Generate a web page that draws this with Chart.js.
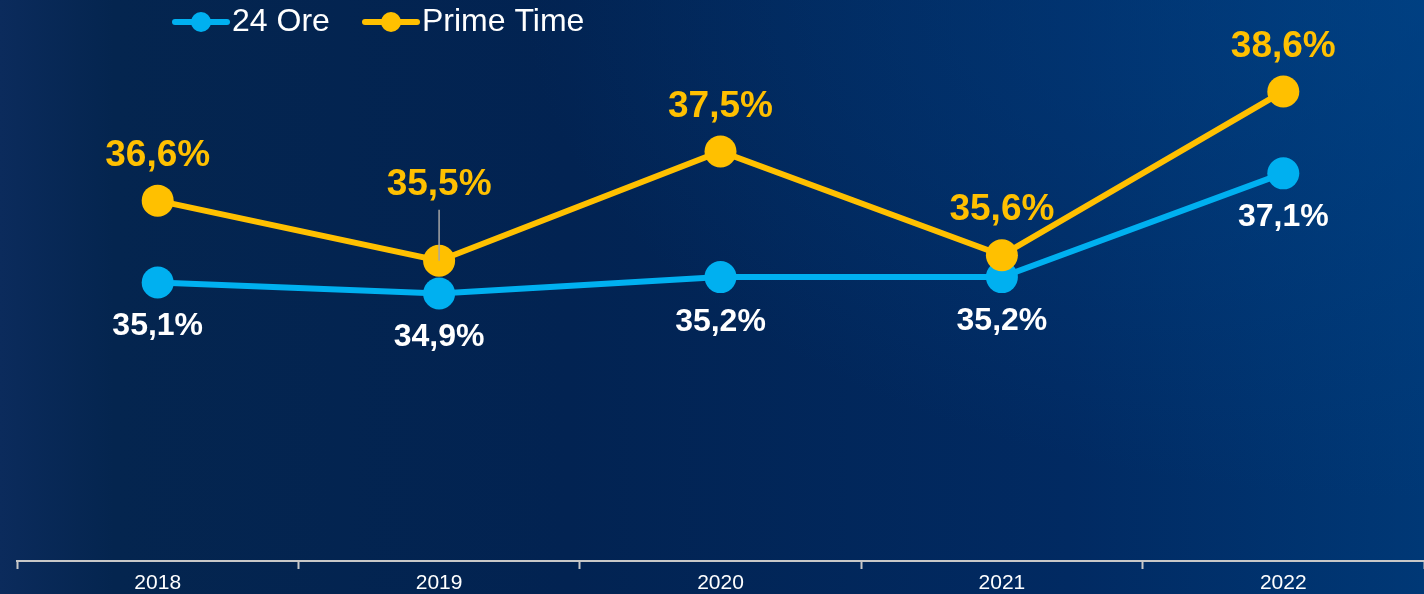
<!DOCTYPE html>
<html>
<head>
<meta charset="utf-8">
<title>24 Ore vs Prime Time</title>
<script src="https://cdn.jsdelivr.net/npm/chart.js@4"></script>
<style>
    html, body {
        margin: 0;
        padding: 0;
        width: 1424px;
        height: 594px;
        overflow: hidden;
    }
    body {
        background:
            radial-gradient(ellipse 900px 500px at 100% 0%, rgba(0, 70, 140, 0.55), rgba(0, 70, 140, 0) 100%),
            linear-gradient(90deg, #0b2b5c 0%, #04254f 8%, #022352 40%, #012a62 75%, #003876 100%);
    }
    .chart-wrap {
        position: relative;
        width: 1424px;
        height: 594px;
    }
</style>
</head>
<body>
<div class="chart-wrap">
    <canvas id="shareChart" width="1424" height="594"></canvas>
</div>

<script>
// Data
const years = ['2018', '2019', '2020', '2021', '2022'];
const ore24 = [35.1, 34.9, 35.2, 35.2, 37.1];
const primeTime = [36.6, 35.5, 37.5, 35.6, 38.6];

const CYAN = '#00b0f0';
const GOLD = '#ffc000';
const FONT = "'Liberation Sans', Arial, sans-serif";

function fmt(v) {
    return v.toFixed(1).replace('.', ',') + '%';
}

// Value labels above / below each point
const valueLabels = {
    id: 'valueLabels',
    afterDatasetsDraw(chart) {
        const ctx = chart.ctx;
        ctx.save();
        ctx.textAlign = 'center';
        ctx.textBaseline = 'middle';
        chart.data.datasets.forEach((ds, i) => {
            const meta = chart.getDatasetMeta(i);
            const cfg = ds.labelCfg;
            meta.data.forEach((pt, j) => {
                const off = cfg.offsets[j];
                if (cfg.leader && cfg.leader[j]) {
                    ctx.strokeStyle = '#a6a6a6';
                    ctx.lineWidth = 1.5;
                    ctx.beginPath();
                    ctx.moveTo(pt.x, pt.y + off + 25);
                    ctx.lineTo(pt.x, pt.y);
                    ctx.stroke();
                }
                ctx.fillStyle = cfg.color;
                ctx.font = cfg.font;
                ctx.fillText(fmt(ds.data[j]), pt.x, pt.y + off);
            });
        });
        ctx.restore();
    }
};

// Legend: line with a dot, then the name
const lineLegend = {
    id: 'lineLegend',
    afterDraw(chart) {
        const ctx = chart.ctx;
        const y = 22;
        const items = [
            { x: 172, ds: chart.data.datasets[0] },
            { x: 362, ds: chart.data.datasets[1] }
        ];
        ctx.save();
        items.forEach(item => {
            ctx.strokeStyle = item.ds.borderColor;
            ctx.lineWidth = 6;
            ctx.lineCap = 'round';
            ctx.beginPath();
            ctx.moveTo(item.x + 3, y);
            ctx.lineTo(item.x + 55, y);
            ctx.stroke();
            ctx.fillStyle = item.ds.borderColor;
            ctx.beginPath();
            ctx.arc(item.x + 29, y, 10, 0, Math.PI * 2);
            ctx.fill();
            ctx.fillStyle = '#ffffff';
            ctx.font = '32px ' + FONT;
            ctx.textAlign = 'left';
            ctx.textBaseline = 'middle';
            ctx.fillText(item.ds.label, item.x + 60, y);
        });
        ctx.restore();
    }
};

const ctx = document.getElementById('shareChart');

new Chart(ctx, {
    type: 'line',
    data: {
        labels: years,
        datasets: [{
            label: '24 Ore',
            data: ore24,
            borderColor: CYAN,
            backgroundColor: CYAN,
            borderWidth: 6,
            pointRadius: 16,
            pointBorderWidth: 0,
            pointBackgroundColor: CYAN,
            tension: 0,
            order: 1,
            labelCfg: {
                color: '#ffffff',
                font: 'bold 32px ' + FONT,
                offsets: [44, 44, 45, 44, 44]
            }
        }, {
            label: 'Prime Time',
            data: primeTime,
            borderColor: GOLD,
            backgroundColor: GOLD,
            borderWidth: 6,
            pointRadius: 16,
            pointBorderWidth: 0,
            pointBackgroundColor: GOLD,
            tension: 0,
            order: 0,
            labelCfg: {
                color: GOLD,
                font: 'bold 37px ' + FONT,
                offsets: [-45, -76, -45, -45, -45],
                leader: [false, true, false, false, false]
            }
        }]
    },
    options: {
        responsive: false,
        animation: false,
        layout: {
            autoPadding: false,
            padding: { top: 15, left: 17, right: 0, bottom: -4 }
        },
        plugins: {
            legend: { display: false },
            tooltip: { enabled: false }
        },
        scales: {
            x: {
                offset: true,
                grid: {
                    offset: true,
                    drawOnChartArea: false,
                    drawTicks: true,
                    tickLength: 8,
                    tickWidth: 2,
                    color: '#c8c8c8'
                },
                border: {
                    display: true,
                    color: '#c8c8c8',
                    width: 2
                },
                ticks: {
                    color: '#ffffff',
                    padding: 4,
                    font: { family: FONT, size: 21, lineHeight: 1 }
                }
            },
            y: {
                display: false,
                min: 30,
                max: 40
            }
        }
    },
    plugins: [valueLabels, lineLegend]
});
</script>
</body>
</html>
